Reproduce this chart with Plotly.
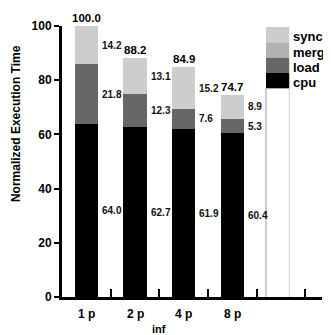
import plotly.graph_objects as go

categories = ["1 p", "2 p", "4 p", "8 p"]
series_names = ["cpu", "load", "merge", "sync"]
cpu = [64.0, 62.7, 61.9, 60.4]
load = [21.8, 12.3, 7.6, 5.3]
merge = [0.0, 0.0, 0.0, 0.0]
sync = [14.2, 13.1, 15.2, 8.9]
totals = [100.0, 88.2, 84.9, 74.7]
y_ticks = [0, 20, 40, 60, 80, 100]
x_title = "inf"
y_title = "Normalized Execution Time"

colors = {"cpu": "#000000", "load": "#676767", "merge": "#b2b2b2", "sync": "#cdcdcd"}
FONT = "Liberation Sans, Arial, sans-serif"
BAR_W = 0.48

series = {"cpu": cpu, "load": load, "merge": merge, "sync": sync}
xs = list(range(len(categories)))

fig = go.Figure()
for name in series_names:
    fig.add_trace(go.Bar(
        x=xs, y=series[name], name=name, width=BAR_W,
        marker=dict(color=colors[name], line=dict(width=0)),
        showlegend=False, hoverinfo="skip",
    ))

annotations = []
for i in xs:
    base = 0.0
    for name in series_names:
        v = series[name][i]
        if v > 0:
            annotations.append(dict(
                x=i + BAR_W / 2, y=base + v / 2, xref="x", yref="y",
                text=f"<b>{v:.1f}</b>", showarrow=False, xanchor="left", yanchor="middle",
                xshift=2, font=dict(family=FONT, size=10, color="#111")))
        base += v
    annotations.append(dict(
        x=i, y=totals[i], xref="x", yref="y", text=f"<b>{totals[i]:.1f}</b>",
        showarrow=False, xanchor="center", yanchor="bottom", yshift=0,
        font=dict(family=FONT, size=11.5, color="#000")))
    annotations.append(dict(
        x=i, y=0, xref="x", yref="paper", text=f"<b>{categories[i]}</b>",
        showarrow=False, xanchor="center", yanchor="middle", yshift=-17,
        font=dict(family=FONT, size=12, color="#000")))

annotations.append(dict(
    x=1.5, y=0, xref="x", yref="paper", text=f"<b>{x_title}</b>", showarrow=False,
    xanchor="center", yanchor="middle", yshift=-32,
    font=dict(family=FONT, size=11, color="#000")))
annotations.append(dict(
    x=0, y=0.638, xref="paper", yref="paper", text=f"<b>{y_title}</b>", showarrow=False,
    textangle=-90, xanchor="center", yanchor="middle", xshift=-46,
    font=dict(family=FONT, size=12, color="#000")))

# fake legend column drawn as a stacked block
LEG_X0, LEG_X1 = 3.69, 4.167
LEG_TOP, LEG_STEP = 99.6, 5.65
shapes = []
for k, name in enumerate(reversed(series_names)):
    y1 = LEG_TOP - k * LEG_STEP
    y0 = y1 - LEG_STEP
    shapes.append(dict(type="rect", xref="x", yref="y", x0=LEG_X0, x1=LEG_X1,
                       y0=y0, y1=y1, fillcolor=colors[name], line=dict(width=0), layer="above"))
    annotations.append(dict(
        x=LEG_X1, y=(y0 + y1) / 2, xref="x", yref="y", text=f"<b>{name}</b>",
        showarrow=False, xanchor="left", yanchor="middle", xshift=2, yshift=-2,
        font=dict(family=FONT, size=13, color="#000")))
leg_bottom = LEG_TOP - len(series_names) * LEG_STEP
shapes.append(dict(type="line", xref="x", yref="y", x0=LEG_X0, x1=LEG_X0, y0=0, y1=leg_bottom,
                   line=dict(color="#999999", width=1)))
shapes.append(dict(type="line", xref="x", yref="y", x0=LEG_X1, x1=LEG_X1, y0=0, y1=leg_bottom,
                   line=dict(color="#d0d0d0", width=1)))

# page body has an 8px margin, so the figure is sized to fill the rest of the window
fig.update_layout(
    width=323, height=327,
    margin=dict(l=54, r=9, t=18, b=38),
    paper_bgcolor="white", plot_bgcolor="white",
    barmode="stack", bargap=0,
    annotations=annotations, shapes=shapes,
    xaxis=dict(range=[-0.5, 4.84], showgrid=False, zeroline=False,
               showline=True, linecolor="black", linewidth=3,
               tickmode="array", tickvals=[0.5, 1.5, 2.5, 3.5, 4.5], ticktext=[""] * 5,
               ticks="inside", ticklen=8, tickwidth=1.5, tickcolor="black"),
    yaxis=dict(range=[0, 100], showgrid=False, zeroline=False,
               showline=True, linecolor="black", linewidth=3,
               tickmode="array", tickvals=y_ticks, ticktext=[f"<b>{t}</b>" for t in y_ticks],
               ticks="outside", ticklen=5, tickwidth=1.5, tickcolor="black",
               tickfont=dict(family=FONT, size=12, color="#000")),
)

fig.write_html("out.html")
